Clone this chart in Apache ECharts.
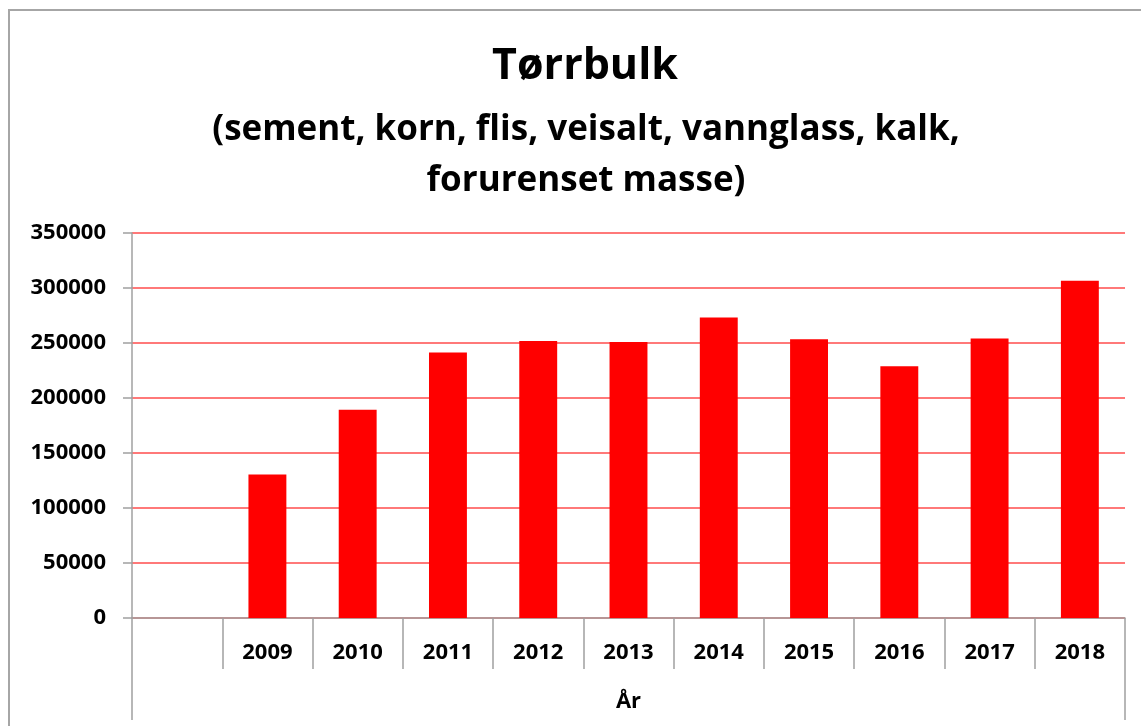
<!DOCTYPE html>
<html>
<head>
<meta charset="utf-8">
<script src="https://cdn.jsdelivr.net/npm/echarts@6/dist/echarts.min.js"></script>
<style>
  html, body { margin: 0; padding: 0; background: #fff; }
  #main { width: 1141px; height: 726px; }
</style>
</head>
<body>
<div id="main"></div>
<script>
// data
var years = ['', '2009', '2010', '2011', '2012', '2013', '2014', '2015', '2016', '2017', '2018'];
var tonnes = [null, 130400, 189400, 241300, 251800, 250900, 273100, 253400, 228800, 254000, 306700];
var groupLabel = ['År'];

var FONT = 'Open Sans';
var myChart = echarts.init(document.getElementById('main'));
myChart.setOption({
    animation: false,
    backgroundColor: '#fff',
    textStyle: { fontFamily: FONT },
    title: [
        { text: 'Tørrbulk', left: 580, top: 40, textAlign: 'center',
          textStyle: { fontSize: 43, fontWeight: 'bold', color: '#000', fontFamily: FONT } },
        { text: '(sement, korn, flis, veisalt, vannglass, kalk,\nforurenset masse)', left: 581, top: 100,
          textAlign: 'center',
          textStyle: { fontSize: 35, fontWeight: 'bold', color: '#000', lineHeight: 51, fontFamily: FONT } }
    ],
    graphic: [{
        type: 'rect', silent: true,
        shape: { x: 9, y: 10, width: 1300, height: 900 },
        style: { fill: 'none', stroke: '#a6a6a6', lineWidth: 2 }
    }],
    grid: { left: 132, right: 16, top: 233, bottom: 108, containLabel: false },
    xAxis: [{
        type: 'category',
        data: years,
        axisLine: { lineStyle: { color: '#a0a0a0', width: 1.5 } },
        axisTick: { show: true, interval: 0, length: 51, alignWithLabel: false,
                    lineStyle: { color: '#a0a0a0', width: 1.5 } },
        axisLabel: { interval: 0, margin: 24, color: '#000', fontSize: 22, fontWeight: 'bold', fontFamily: FONT }
    }, {
        type: 'category',
        data: groupLabel,
        position: 'bottom',
        axisLine: { show: false },
        axisTick: { show: true, length: 102, lineStyle: { color: '#a0a0a0', width: 1.5 } },
        axisLabel: { margin: 73, color: '#000', fontSize: 22, fontWeight: 'bold', fontFamily: FONT }
    }],
    yAxis: {
        type: 'value',
        min: 0, max: 350000, interval: 50000,
        axisLine: { show: true, lineStyle: { color: '#a0a0a0', width: 1.5 } },
        axisTick: { show: true, length: 9, lineStyle: { color: '#a0a0a0', width: 1.5 } },
        axisLabel: { margin: 26, color: '#000', fontSize: 22, fontWeight: 'bold', fontFamily: FONT,
                     formatter: function (v) { return String(v); } },
        splitLine: { lineStyle: { color: '#ff4d4d', width: 1.5 } }
    },
    series: [{
        type: 'bar',
        name: 'Tørrbulk',
        xAxisIndex: 0,
        data: tonnes,
        barWidth: '42%',
        itemStyle: { color: '#ff0000' }
    }]
});
</script>
</body>
</html>
